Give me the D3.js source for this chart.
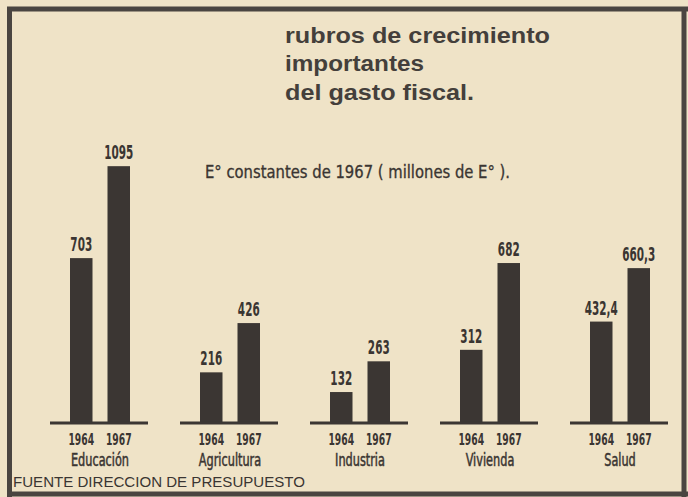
<!DOCTYPE html>
<html>
<head>
<meta charset="utf-8">
<script src="https://cdn.jsdelivr.net/npm/d3@7"></script>
<style>
  html, body { margin: 0; padding: 0; background: #efe3c7; }
  svg { display: block; }
</style>
</head>
<body>
<div id="chart"></div>
<script>
// ---- data ----
const categories = ["Educación", "Agricultura", "Industria", "Vivienda", "Salud"];
const years = ["1964", "1967"];
const values1964 = [703, 216, 132, 312, 432.4];
const values1967 = [1095, 426, 263, 682, 660.3];
const valueLabels1964 = ["703", "216", "132", "312", "432,4"];
const valueLabels1967 = ["1095", "426", "263", "682", "660,3"];
const titleLines = ["rubros de crecimiento", "importantes", "del gasto fiscal."];
const subtitle = "E° constantes de 1967 ( millones de E° ).";
const source = "FUENTE DIRECCION DE PRESUPUESTO";

// ---- setup ----
const W = 688, H = 497;
const ink = "#3a3532";
const barColor = "#3b3633";
const condensed = "'DejaVu Sans Condensed', 'DejaVu Sans', sans-serif";

const svg = d3.select("#chart").append("svg").attr("width", W).attr("height", H);
svg.append("rect").attr("width", W).attr("height", H).attr("fill", "#efe3c7");

// frame
svg.append("path")
  .attr("d", "M9.5,497 L9.5,9 L688,9")
  .attr("fill", "none").attr("stroke", "#4a4541").attr("stroke-width", 5);
svg.append("line").attr("x1", 684).attr("x2", 684).attr("y1", 9).attr("y2", 497)
  .attr("stroke", "#4a4541").attr("stroke-width", 5);
svg.append("line").attr("x1", 7).attr("x2", 688).attr("y1", 494).attr("y2", 494)
  .attr("stroke", "#4a4541").attr("stroke-width", 5);

// title
const titleBase = [43, 71, 100];
const titleWidths = [265, 139, 189];
titleLines.forEach((t, i) => {
  svg.append("text").attr("x", 285).attr("y", titleBase[i])
    .attr("font-family", "'Liberation Sans', Arial, sans-serif")
    .attr("font-weight", "bold").attr("font-size", 22)
    .attr("fill", "#443f3b")
    .attr("textLength", titleWidths[i]).attr("lengthAdjust", "spacingAndGlyphs")
    .text(t);
});

// subtitle
svg.append("text").attr("x", 205).attr("y", 178)
  .attr("font-family", condensed).attr("font-size", 17)
  .attr("fill", ink).attr("stroke", ink).attr("stroke-width", 0.3)
  .attr("textLength", 305).attr("lengthAdjust", "spacingAndGlyphs")
  .text(subtitle);

// scales
const x0 = d3.scaleBand().domain(categories).range([35, 685]).padding(0);
const x1 = d3.scaleBand().domain(years).range([-30, 30]).paddingInner(0.4).paddingOuter(0);
const y = d3.scaleLinear().domain([0, 1100]).range([423, 165]);

const rows = categories.map((c, i) => ({
  cat: c,
  bars: [
    { year: years[0], v: values1964[i], label: valueLabels1964[i] },
    { year: years[1], v: values1967[i], label: valueLabels1967[i] }
  ]
}));

const g = svg.selectAll("g.grp").data(rows).join("g")
  .attr("class", "grp")
  .attr("transform", d => `translate(${x0(d.cat) + x0.bandwidth() / 2},0)`);

// bars
g.selectAll("rect.bar").data(d => d.bars).join("rect")
  .attr("class", "bar")
  .attr("x", d => x1(d.year))
  .attr("width", x1.bandwidth())
  .attr("y", d => y(d.v))
  .attr("height", d => y(0) - y(d.v))
  .attr("fill", barColor);

// baseline
g.append("line")
  .attr("x1", -50).attr("x2", 48)
  .attr("y1", y(0)).attr("y2", y(0))
  .attr("stroke", barColor).attr("stroke-width", 3);

// value labels
g.selectAll("g.val").data(d => d.bars).join("g")
  .attr("class", "val")
  .attr("transform", d => `translate(${x1(d.year) + x1.bandwidth() / 2},${y(d.v) - 7}) scale(0.58,1)`)
  .append("text")
  .attr("text-anchor", "middle")
  .attr("font-family", condensed).attr("font-weight", "bold")
  .attr("font-size", 20).attr("fill", ink)
  .text(d => d.label);

// year labels
g.selectAll("g.yr").data(d => d.bars).join("g")
  .attr("class", "yr")
  .attr("transform", d => `translate(${x1(d.year) + x1.bandwidth() / 2},445) scale(0.64,1)`)
  .append("text")
  .attr("text-anchor", "middle")
  .attr("font-family", condensed).attr("font-weight", "bold")
  .attr("font-size", 16).attr("fill", ink)
  .text(d => d.year);

// category labels
g.append("g")
  .attr("transform", "translate(0,466) scale(0.74,1)")
  .append("text")
  .attr("text-anchor", "middle")
  .attr("font-family", condensed)
  .attr("font-size", 17).attr("fill", ink)
  .attr("stroke", ink).attr("stroke-width", 0.5)
  .text(d => d.cat);

// source
svg.append("text").attr("x", 13).attr("y", 487)
  .attr("font-family", "'Liberation Sans', Arial, sans-serif")
  .attr("font-size", 14).attr("fill", ink)
  .attr("textLength", 292).attr("lengthAdjust", "spacingAndGlyphs")
  .text(source);
</script>
</body>
</html>
